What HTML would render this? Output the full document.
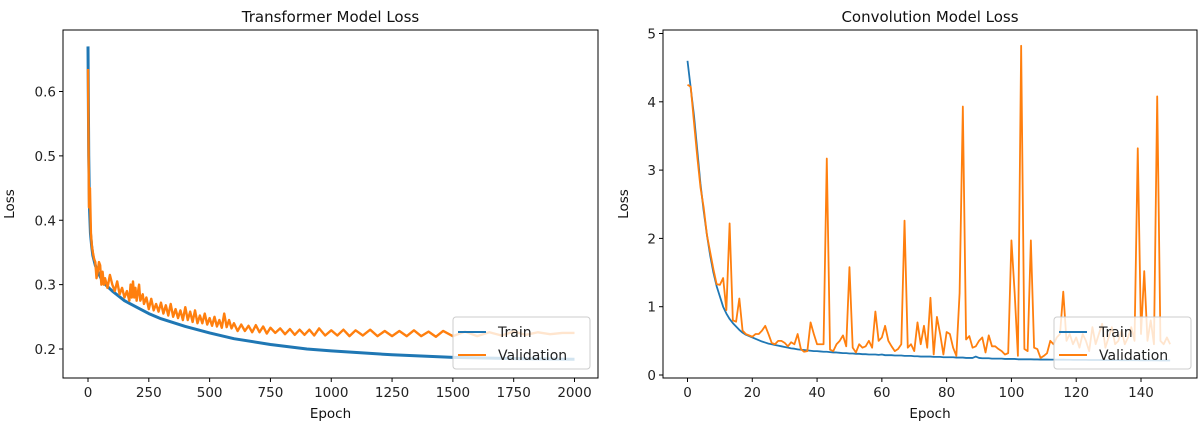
<!DOCTYPE html>
<html><head><meta charset="utf-8"><style>
html,body{margin:0;padding:0;background:#fff;}
svg{display:block;font-family:"DejaVu Sans","Liberation Sans",sans-serif;}
</style></head><body>
<svg id="fig" width="1200" height="432" viewBox="0 0 1200 432" xmlns="http://www.w3.org/2000/svg"></svg>
<script>
// ---- Transformer data ----
const tTrainEpochs=[0,3,6,10,15,20,30,40,60,80,100,150,200,250,300,400,500,600,750,900,1000,1250,1500,1750,2000];
const tTrainLoss=[0.67,0.5,0.42,0.38,0.36,0.345,0.33,0.32,0.305,0.297,0.29,0.275,0.265,0.255,0.247,0.235,0.225,0.216,0.207,0.2,0.197,0.191,0.187,0.185,0.184];
const tValEpochs=[0,4,8,12,16,20,25,30,35,40,45,50,55,60,65,70,80,90,100,110,120,130,140,150,160,170,175,180,185,190,195,200,210,215,225,230,240,250,260,270,280,290,300,310,320,330,340,350,360,370,380,390,400,410,420,430,440,450,460,470,480,490,500,510,520,530,540,550,560,570,580,590,600,615,630,645,660,675,690,705,720,735,750,770,790,810,830,850,870,890,910,930,950,975,1000,1025,1050,1075,1100,1130,1160,1190,1220,1250,1280,1310,1340,1370,1400,1430,1460,1500,1550,1600,1650,1700,1750,1800,1850,1900,1950,2000];
const tValLoss=[0.635,0.42,0.45,0.38,0.36,0.35,0.34,0.335,0.31,0.32,0.335,0.33,0.3,0.32,0.3,0.31,0.295,0.315,0.3,0.29,0.305,0.285,0.295,0.28,0.29,0.275,0.3,0.28,0.305,0.28,0.295,0.275,0.3,0.275,0.285,0.27,0.28,0.262,0.278,0.26,0.27,0.258,0.272,0.255,0.268,0.252,0.27,0.25,0.262,0.248,0.26,0.245,0.265,0.245,0.258,0.242,0.26,0.24,0.252,0.24,0.255,0.238,0.248,0.236,0.25,0.235,0.245,0.233,0.255,0.234,0.245,0.232,0.24,0.228,0.238,0.228,0.236,0.226,0.237,0.226,0.235,0.224,0.233,0.225,0.232,0.223,0.231,0.222,0.23,0.222,0.23,0.221,0.232,0.221,0.229,0.221,0.23,0.22,0.229,0.221,0.23,0.22,0.228,0.22,0.228,0.22,0.229,0.22,0.227,0.219,0.228,0.22,0.227,0.22,0.226,0.221,0.227,0.222,0.226,0.223,0.225,0.225];
const tXTicks=[0,250,500,750,1000,1250,1500,1750,2000];
const tYTicks=[0.2,0.3,0.4,0.5,0.6];
// ---- Convolution data ----
const cTrainLoss=[4.6,4.2,3.8,3.3,2.8,2.4,2.05,1.75,1.5,1.3,1.15,1.0,0.9,0.82,0.76,0.71,0.66,0.62,0.59,0.57,0.55,0.53,0.51,0.49,0.475,0.46,0.45,0.44,0.43,0.42,0.41,0.4,0.39,0.385,0.375,0.37,0.365,0.36,0.355,0.35,0.35,0.345,0.34,0.34,0.335,0.33,0.33,0.325,0.32,0.32,0.315,0.315,0.31,0.31,0.305,0.305,0.3,0.3,0.3,0.295,0.3,0.29,0.29,0.29,0.285,0.285,0.285,0.28,0.28,0.28,0.275,0.275,0.27,0.27,0.27,0.27,0.265,0.265,0.265,0.26,0.26,0.26,0.26,0.255,0.255,0.255,0.25,0.25,0.25,0.27,0.25,0.245,0.245,0.245,0.24,0.24,0.24,0.24,0.235,0.235,0.235,0.235,0.23,0.23,0.23,0.23,0.23,0.228,0.228,0.226,0.226,0.226,0.225,0.225,0.224,0.224,0.224,0.223,0.223,0.222,0.222,0.222,0.221,0.221,0.22,0.22,0.22,0.22,0.219,0.219,0.219,0.218,0.218,0.218,0.217,0.217,0.217,0.216,0.216,0.216,0.215,0.215,0.215,0.214,0.214,0.214,0.213,0.213,0.213,0.212];
const cValLoss=[4.25,4.22,3.7,3.2,2.75,2.45,2.05,1.8,1.55,1.33,1.32,1.42,0.95,2.22,0.8,0.78,1.12,0.65,0.6,0.58,0.56,0.6,0.6,0.65,0.72,0.6,0.47,0.45,0.5,0.5,0.47,0.42,0.48,0.45,0.6,0.38,0.34,0.35,0.77,0.6,0.45,0.45,0.45,3.17,0.37,0.35,0.45,0.5,0.58,0.42,1.58,0.4,0.33,0.45,0.4,0.42,0.5,0.4,0.93,0.5,0.55,0.72,0.5,0.42,0.35,0.38,0.45,2.26,0.4,0.45,0.35,0.77,0.45,0.72,0.4,1.13,0.3,0.85,0.6,0.3,0.63,0.6,0.4,0.28,1.2,3.93,0.52,0.57,0.4,0.42,0.5,0.55,0.33,0.58,0.42,0.42,0.38,0.35,0.3,0.32,1.97,1.2,0.28,4.82,0.38,0.35,1.97,0.4,0.38,0.25,0.28,0.32,0.5,0.45,0.55,0.6,1.22,0.5,0.6,0.45,0.55,0.4,0.6,0.5,0.35,0.7,0.45,0.6,0.75,0.4,0.55,0.7,0.45,0.5,0.65,0.45,0.55,0.7,0.5,3.32,0.6,1.52,0.5,0.8,0.45,4.08,0.5,0.45,0.55,0.45];
const cXTicks=[0,20,40,60,80,100,120,140];
const cYTicks=[0,1,2,3,4,5];

const NS='http://www.w3.org/2000/svg';
const svg=document.getElementById('fig');
function mk(tag,attrs,parent){const e=document.createElementNS(NS,tag);for(const k in attrs)e.setAttribute(k,attrs[k]);(parent||svg).appendChild(e);return e;}

function panel(cfg){
  const g=mk('g',{});
  
  
  const {L,R,T,B}=cfg;
  const sx=v=>cfg.px0+(v-cfg.x0)*(cfg.px1-cfg.px0)/(cfg.x1-cfg.x0);
  const sy=v=>cfg.py0+(v-cfg.y0)*(cfg.py1-cfg.py0)/(cfg.y1-cfg.y0);
  const clip=mk('clipPath',{id:cfg.name+'-clip'},g);
  mk('rect',{x:L,y:T,width:R-L,height:B-T},clip);
  const lines=mk('g',{'clip-path':'url(#'+cfg.name+'-clip)'},g);
  function series(xs,ys,color,nm,w){
    const d=xs.map((x,i)=>(i?'L':'M')+sx(x).toFixed(2)+','+sy(ys[i]).toFixed(2)).join('');
    const p=mk('path',{d:d,fill:'none',stroke:color,'stroke-width':w,'stroke-linejoin':'round'},lines);
    
    
  }
  series(cfg.trX,cfg.trY,'#1f77b4',cfg.name+'-train-line',cfg.tw);
  series(cfg.vaX,cfg.vaY,'#ff7f0e',cfg.name+'-validation-line',cfg.vw);
  const frame=mk('rect',{x:L,y:T,width:R-L,height:B-T,fill:'none',stroke:'#000','stroke-width':1},g);
  
  
  cfg.xt.forEach(v=>{
    const x=sx(v);
    mk('line',{x1:x,x2:x,y1:B,y2:B+4,stroke:'#000'},g);
    const t=mk('text',{x:x,y:B+19,'text-anchor':'middle','font-size':13.5,fill:'#222'},g);
    t.textContent=v;
    
    
  });
  cfg.yt.forEach(v=>{
    const y=sy(v);
    mk('line',{x1:L-4,x2:L,y1:y,y2:y,stroke:'#000'},g);
    const t=mk('text',{x:L-7,y:y+5,'text-anchor':'end','font-size':13.5,fill:'#222'},g);
    t.textContent=cfg.yfmt(v);
    
    
  });
  const title=mk('text',{x:(L+R)/2,y:T-8,'text-anchor':'middle','font-size':15,fill:'#111'},g);
  title.textContent=cfg.title;
  
  
  const xl=mk('text',{x:(L+R)/2,y:B+40,'text-anchor':'middle','font-size':13.5,fill:'#111'},g);
  xl.textContent='Epoch';
  
  
  const yx=cfg.ylx, yy=(T+B)/2;
  const yl=mk('text',{x:yx,y:yy,'text-anchor':'middle','font-size':13.5,fill:'#111',transform:'rotate(-90 '+yx+' '+yy+')'},g);
  yl.textContent='Loss';
  
  
  const lg=mk('g',{},g);
  
  
  const lx=cfg.lgx, ly=B-61;
  mk('rect',{x:lx,y:ly,width:137,height:52,rx:3,fill:'rgba(255,255,255,0.8)',stroke:'#ccc'},lg);
  [['Train','#1f77b4'],['Validation','#ff7f0e']].forEach((e,i)=>{
    const yy2=ly+15+i*23;
    mk('line',{x1:lx+5,x2:lx+33,y1:yy2,y2:yy2,stroke:e[1],'stroke-width':2},lg);
    const t=mk('text',{x:lx+45,y:yy2+5,'font-size':14,fill:'#222'},lg);
    t.textContent=e[0];
    
    
  });
}

panel({name:'transformer-chart',L:63,R:598,T:30,B:378,x0:0,x1:2000,px0:88,px1:574.5,y0:0.2,y1:0.6,py0:349,py1:91.5,
  trX:tTrainEpochs,trY:tTrainLoss,vaX:tValEpochs,vaY:tValLoss,xt:tXTicks,yt:tYTicks,yfmt:v=>v.toFixed(1),
  title:'Transformer Model Loss',ylx:14,lgx:453,tw:3,vw:2.4});
panel({name:'convolution-chart',L:663,R:1197,T:30,B:378,x0:0,x1:140,px0:687.5,px1:1141,y0:0,y1:5,py0:375,py1:33.5,
  trX:cTrainLoss.map((_,i)=>i),trY:cTrainLoss,vaX:cValLoss.map((_,i)=>i),vaY:cValLoss,xt:cXTicks,yt:cYTicks,yfmt:v=>String(v),
  title:'Convolution Model Loss',ylx:628,lgx:1054,tw:1.8,vw:1.8});
</script>
</body></html>
